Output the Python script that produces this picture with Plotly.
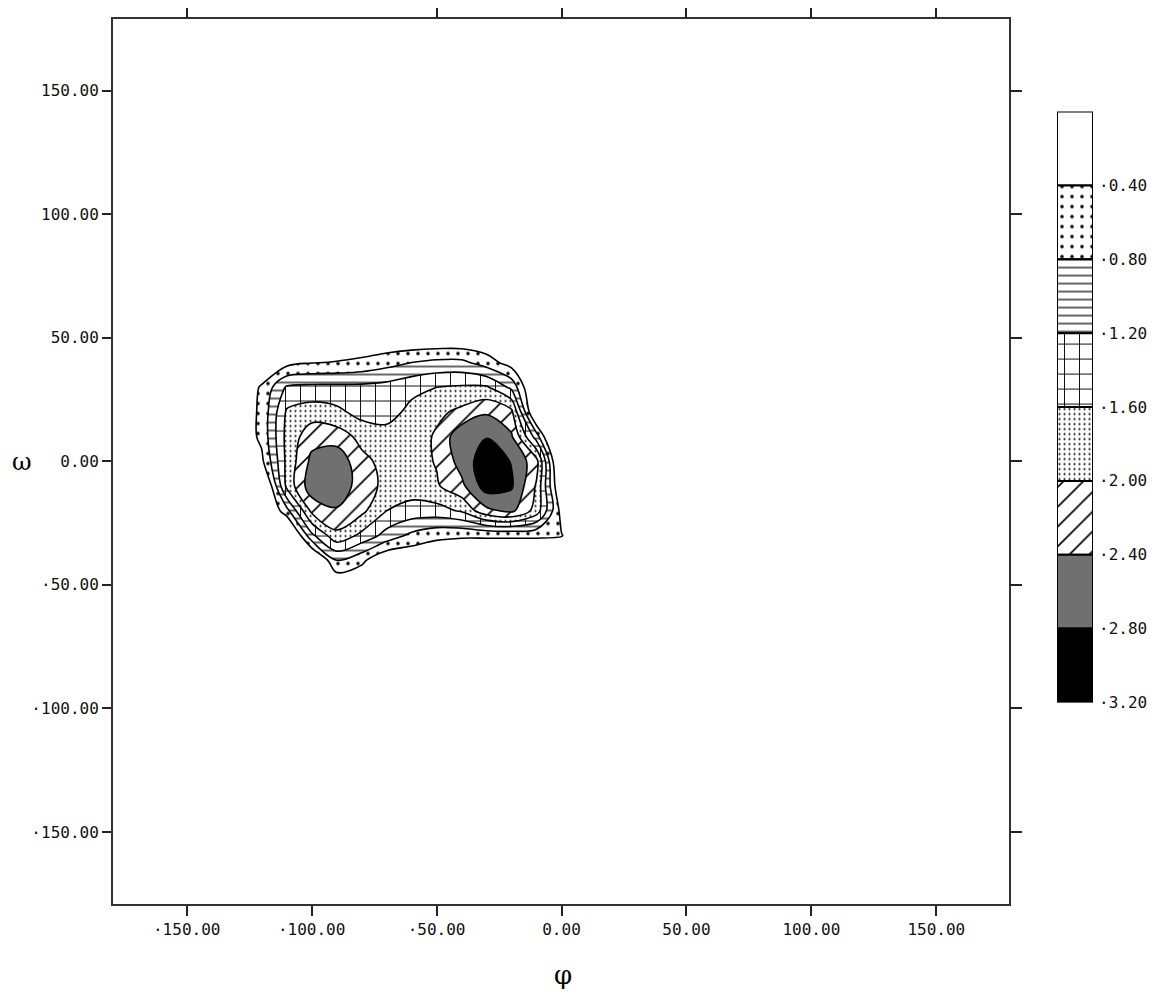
import numpy as np
import plotly.graph_objects as go

# Energy surface sampled on a 10-degree grid (rows follow omega, columns follow phi)
phi = [-140, -130, -120, -110, -100, -90, -80, -70, -60, -50, -40, -30, -20, -10, 0, 10, 20]
omega = [60, 50, 40, 30, 20, 10, 0, -10, -20, -30, -40, -50, -60]
energy = [
    [0, 0, 0, 0, 0, 0, 0, 0, 0, 0, 0, 0, 0, 0, 0, 0, 0],
    [0, 0, 0, 0, 0, 0, 0, 0, 0, 0, 0, 0, 0, 0, 0, 0, 0],
    [0, 0, 0, -0.25, -0.38, -0.42, -0.5, -0.65, -0.8, -0.9, -0.9, -0.6, -0.2, 0, 0, 0, 0],
    [0, 0, -0.45, -1.25, -1.3, -1.3, -1.3, -1.35, -1.5, -1.6, -1.65, -1.65, -1.1, 0.3, 0, 0, 0],
    [0, 0, -0.5, -1.65, -1.8, -1.7, -1.45, -1.45, -1.7, -1.9, -2.1, -2.35, -2.1, 0.3, 0.3, 0, 0],
    [0, 0, -0.5, -1.72, -2.25, -2.2, -1.89, -1.75, -1.75, -2.06, -2.68, -2.78, -2.45, -1.0, 1.0, 0, 0],
    [0, 0, -0.3, -1.7, -2.5, -2.7, -2.1, -1.88, -1.82, -2.03, -2.56, -3.05, -2.78, -2.15, 0.5, 0, 0],
    [0, 0, 0.45, -1.7, -2.65, -2.7, -2.2, -1.89, -1.8, -1.95, -2.3, -3.0, -2.85, -1.95, 0.15, 0, 0],
    [0, 0, 0.3, -0.65, -2.1, -2.35, -2.1, -1.6, -1.45, -1.45, -1.65, -2.3, -2.5, -1.83, -0.24, 0, 0],
    [0, 0, 0, 0.5, -1.1, -1.9, -1.5, -1.05, -0.7, -0.5, -0.45, -0.45, -0.45, -0.45, -0.42, 0, 0],
    [0, 0, 0, 0, 0.3, -0.8, -0.5, 0, 0, 0, 0, 0, 0, 0, 0, 0, 0],
    [0, 0, 0, 0, 0, 0, 0, 0, 0, 0, 0, 0, 0, 0, 0, 0, 0],
    [0, 0, 0, 0, 0, 0, 0, 0, 0, 0, 0, 0, 0, 0, 0, 0, 0],
]

# Contour levels and scale bands
levels = [-0.4, -0.8, -1.2, -1.6, -2.0, -2.4, -2.8]
scale_edges = [0.0, -0.4, -0.8, -1.2, -1.6, -2.0, -2.4, -2.8, -3.2]

axis_ticks = [-150, -100, -50, 0, 50, 100, 150]
axis_ticktext = ["·150.00", "·100.00", "·50.00", "0.00", "50.00", "100.00", "150.00"]
top_ticks = [-150, -50, 0, 50, 100, 150]

# Fill style for each band, from the shallowest (above -0.4) to the deepest
band_styles = [
    dict(color="white", shape="", size=8, solidity=0.2),
    dict(color="white", shape=".", size=10, solidity=0.1),
    dict(color="white", shape="-", size=8, solidity=0.15),
    dict(color="white", shape="+", size=15, solidity=0.12),
    dict(color="white", shape=".", size=5, solidity=0.14),
    dict(color="white", shape="/", size=14, solidity=0.12),
    dict(color="#707070", shape="", size=8, solidity=0.2),
    dict(color="black", shape="", size=8, solidity=0.2),
]

FONT = "DejaVu Sans Mono"


def iso_loops(xs, ys, z, level):
    """Closed iso-lines (marching squares) enclosing the region z < level."""
    z = np.asarray(z, dtype=float)
    ny, nx = z.shape
    inside = z < level

    def point(key):
        kind, i, j = key
        if kind == "h":
            a, b = z[i, j], z[i, j + 1]
            t = (level - a) / (b - a)
            return xs[j] + t * (xs[j + 1] - xs[j]), ys[i]
        a, b = z[i, j], z[i + 1, j]
        t = (level - a) / (b - a)
        return xs[j], ys[i] + t * (ys[i + 1] - ys[i])

    adj = {}

    def link(p, q):
        adj.setdefault(p, []).append(q)
        adj.setdefault(q, []).append(p)

    for i in range(ny - 1):
        for j in range(nx - 1):
            c = [inside[i, j], inside[i, j + 1], inside[i + 1, j + 1], inside[i + 1, j]]
            e = [("h", i, j), ("v", i, j + 1), ("h", i + 1, j), ("v", i, j)]
            cut = [e[k] for k in range(4) if c[k] != c[(k + 1) % 4]]
            if len(cut) == 2:
                link(cut[0], cut[1])
            elif len(cut) == 4:
                centre = z[i:i + 2, j:j + 2].mean() < level
                if c[1] != centre:
                    link(e[0], e[1])
                    link(e[2], e[3])
                else:
                    link(e[3], e[0])
                    link(e[1], e[2])

    loops = []
    seen = set()
    for start in adj:
        if start in seen:
            continue
        seen.add(start)
        chain = [start]
        cur = start
        while True:
            nxt = [n for n in adj[cur] if n not in seen]
            if not nxt:
                break
            cur = nxt[0]
            seen.add(cur)
            chain.append(cur)
        pts = [point(k) for k in chain]
        pts.append(pts[0])
        loops.append(pts)
    return loops


def pattern_of(style):
    return dict(shape=style["shape"], size=style["size"], solidity=style["solidity"],
                fgcolor="black", fgopacity=1, bgcolor=style["color"], fillmode="overlay")


fig = go.Figure()

# Filled contour bands, outermost first so deeper bands paint over them
for level, style in zip(levels, band_styles[1:]):
    xs_line, ys_line = [], []
    for loop in iso_loops(phi, omega, energy, level):
        xs_line += [p[0] for p in loop] + [None]
        ys_line += [p[1] for p in loop] + [None]
    fig.add_trace(go.Scatter(
        x=xs_line, y=ys_line, mode="lines", fill="toself",
        fillcolor=style["color"], fillpattern=pattern_of(style),
        line=dict(color="black", width=1.6, shape="spline", smoothing=1.0),
        hoverinfo="skip", showlegend=False,
    ))

# Empty trace carrying the top and right tick axes
fig.add_trace(go.Scatter(x=[], y=[], xaxis="x2", yaxis="y2", showlegend=False, hoverinfo="skip"))

# Patterned scale bar
for top, bottom, style in zip(scale_edges[:-1], scale_edges[1:], band_styles):
    fig.add_trace(go.Bar(
        x=[0], y=[top - bottom], base=[bottom], width=1,
        marker=dict(color=style["color"], line=dict(color="black", width=2),
                    pattern=pattern_of(style)),
        xaxis="x3", yaxis="y3", showlegend=False, hoverinfo="skip",
    ))

scale_ticks = scale_edges[1:]
scale_text = [("·%.2f" % abs(v)) if v < 0 else "%.2f" % v for v in scale_ticks]

dom_x = [113 / 1154, 1009 / 1154]
dom_y = [1 - 912.7 / 1008, 1 - 18.7 / 1008]
x_range = [-179.5, 179.1]
y_range = [-179.0, 179.2]
tick_font = dict(family=FONT, size=16, color="#111")

fig.update_layout(
    width=1154, height=1008,
    margin=dict(l=0, r=0, t=0, b=0),
    paper_bgcolor="white", plot_bgcolor="white",
    barmode="overlay",
    xaxis=dict(domain=dom_x, range=x_range, tickvals=axis_ticks, ticktext=axis_ticktext,
               ticks="outside", ticklen=10, tickwidth=1.5, tickcolor="#222",
               showline=True, linecolor="#333", linewidth=2, mirror=True,
               showgrid=False, zeroline=False, tickfont=tick_font, anchor="y"),
    yaxis=dict(domain=dom_y, range=y_range, tickvals=axis_ticks, ticktext=axis_ticktext,
               ticks="outside", ticklen=9, tickwidth=1.5, tickcolor="#222",
               showline=True, linecolor="#333", linewidth=2, mirror=True,
               showgrid=False, zeroline=False, tickfont=tick_font, anchor="x"),
    xaxis2=dict(overlaying="x", side="top", anchor="y", range=x_range, tickvals=top_ticks,
                ticks="outside", ticklen=10, tickwidth=1.5, tickcolor="#222",
                showticklabels=False, showgrid=False, zeroline=False, showline=False),
    yaxis2=dict(overlaying="y", side="right", anchor="x", range=y_range, tickvals=axis_ticks,
                ticks="outside", ticklen=12, tickwidth=1.5, tickcolor="#222",
                showticklabels=False, showgrid=False, zeroline=False, showline=False),
    xaxis3=dict(domain=[1057 / 1154, 1093 / 1154], range=[-0.5, 0.5], anchor="y3",
                showticklabels=False, ticks="", showgrid=False, zeroline=False, showline=False),
    yaxis3=dict(domain=[1 - 709.5 / 1008, 1 - 112.7 / 1008], range=[-3.2, 0], anchor="x3",
                side="right", tickvals=scale_ticks, ticktext=scale_text, ticks="",
                ticklabelstandoff=5, showgrid=False, zeroline=False, showline=False,
                tickfont=tick_font),
    annotations=[
        dict(text="ω", x=22 / 1154, y=1 - 467 / 1008, xref="paper", yref="paper",
             xanchor="center", yanchor="middle", showarrow=False,
             font=dict(family="DejaVu Serif", size=24, color="black")),
        dict(text="φ", x=563 / 1154, y=1 - 985 / 1008, xref="paper", yref="paper",
             xanchor="center", yanchor="middle", showarrow=False,
             font=dict(family="DejaVu Serif", size=26, color="black")),
    ],
)

fig.write_html("out.html")
